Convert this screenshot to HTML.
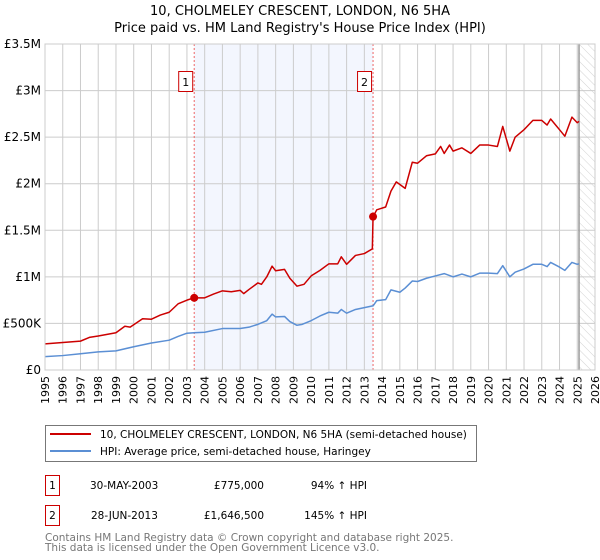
<!DOCTYPE html>
<html><head><meta charset="utf-8"><style>
body{margin:0;background:#fff;font-family:"DejaVu Sans","Liberation Sans",sans-serif;}
#wrap{position:relative;width:600px;height:560px;overflow:hidden;}
</style></head><body><div id="wrap">
<svg id="chart" width="600" height="560" xmlns="http://www.w3.org/2000/svg" font-family="DejaVu Sans, Liberation Sans, sans-serif">
<defs><pattern id="hatch" width="6" height="6" patternUnits="userSpaceOnUse" patternTransform="rotate(-45)"><line x1="0" y1="0" x2="0" y2="6" stroke="#c8c8c8" stroke-width="0.8"/></pattern></defs>
<text x="300" y="15" text-anchor="middle" font-size="13" fill="#000">10, CHOLMELEY CRESCENT, LONDON, N6 5HA</text>
<text x="300" y="32" text-anchor="middle" font-size="13" fill="#000">Price paid vs. HM Land Registry's House Price Index (HPI)</text>
<g id="plot"></g>
<g>
<rect x="45.5" y="425.5" width="431" height="36" fill="#fff" stroke="#777"/>
<line x1="50" y1="434" x2="91" y2="434" stroke="#cc0000" stroke-width="2"/>
<text x="100" y="438" font-size="10.5">10, CHOLMELEY CRESCENT, LONDON, N6 5HA (semi-detached house)</text>
<line x1="50" y1="451" x2="91" y2="451" stroke="#5b8fd4" stroke-width="2"/>
<text x="100" y="455" font-size="10.5">HPI: Average price, semi-detached house, Haringey</text>
</g>
<g font-size="10.5">
<rect x="45.5" y="475.5" width="14" height="20" fill="#fff" stroke="#cc0000"/>
<text x="52.5" y="489" text-anchor="middle">1</text>
<text x="90" y="489">30-MAY-2003</text>
<text x="264" y="489" text-anchor="end">£775,000</text>
<text x="367" y="489" text-anchor="end">94% ↑ HPI</text>
<rect x="45.5" y="505.5" width="14" height="20" fill="#fff" stroke="#cc0000"/>
<text x="52.5" y="519" text-anchor="middle">2</text>
<text x="91" y="519">28-JUN-2013</text>
<text x="264" y="519" text-anchor="end">£1,646,500</text>
<text x="367" y="519" text-anchor="end">145% ↑ HPI</text>
</g>
<text x="45" y="541" font-size="10.5" fill="#777">Contains HM Land Registry data © Crown copyright and database right 2025.</text>
<text x="45" y="551" font-size="10.5" fill="#777">This data is licensed under the Open Government Licence v3.0.</text>
</svg>
</div>
<script>
const hpiYears=[1995,1996,1997,1998,1999,2000,2001,2002,2002.5,2003,2003.4,2004,2005,2006,2006.5,2007,2007.5,2007.8,2008,2008.5,2008.8,2009.2,2009.5,2010,2010.5,2011,2011.5,2011.7,2012,2012.5,2013,2013.5,2013.7,2014.2,2014.5,2015,2015.3,2015.7,2016,2016.5,2017,2017.5,2018,2018.5,2019,2019.5,2020,2020.5,2020.8,2021.2,2021.5,2022,2022.5,2023,2023.3,2023.5,2024,2024.3,2024.7,2025,2025.1];
const hpiValues=[143,155,175,195,205,250,290,320,360,395,400,405,445,445,460,490,530,600,570,575,520,480,490,530,580,620,610,650,610,650,670,690,745,755,860,835,880,955,950,985,1010,1035,1000,1030,1000,1040,1040,1035,1120,1000,1050,1085,1135,1135,1110,1155,1105,1070,1155,1135,1140];
const priceYears=[1995,1996,1997,1997.5,1998,1999,1999.5,1999.8,2000.5,2001,2001.5,2002,2002.5,2003,2003.4,2004,2004.5,2005,2005.5,2006,2006.2,2006.5,2007,2007.2,2007.5,2007.8,2008,2008.5,2008.8,2009.2,2009.6,2010,2010.5,2011,2011.5,2011.7,2012,2012.5,2013,2013.45,2013.49,2013.7,2014.2,2014.5,2014.8,2015.3,2015.7,2016,2016.5,2017,2017.3,2017.5,2017.8,2018,2018.5,2019,2019.5,2020,2020.5,2020.8,2021.2,2021.5,2022,2022.5,2023,2023.3,2023.5,2024,2024.3,2024.7,2025,2025.1];
const priceValues=[280,295,310,350,365,400,470,460,550,545,590,620,710,750,775,775,815,850,840,855,820,865,935,920,1000,1115,1065,1080,985,900,920,1010,1070,1140,1140,1215,1135,1230,1250,1300,1646,1720,1750,1920,2020,1950,2230,2220,2300,2320,2400,2325,2415,2350,2385,2325,2415,2415,2400,2615,2350,2500,2580,2680,2680,2630,2695,2580,2510,2715,2655,2670];
const saleYears=[2003.41,2013.49];
const saleValues=[775,1646.5];
const saleLabels=["1","2"];
const yTicks=[0,500,1000,1500,2000,2500,3000,3500];
const yTickLabels=["£0","£500K","£1M","£1.5M","£2M","£2.5M","£3M","£3.5M"];
const xTicks=[];for(let y=1995;y<=2026;y++)xTicks.push(y);
const dataEnd=2025.1;

const X0=45,X1=595,Y0=370,Y1=44;
const xs=t=>X0+(t-1995)/(2026-1995)*(X1-X0);
const ys=v=>Y0-v/3500*(Y0-Y1);
const NS="http://www.w3.org/2000/svg";
const g=document.getElementById('plot');
function mk(tag,attrs){const e=document.createElementNS(NS,tag);for(const k in attrs)e.setAttribute(k,attrs[k]);g.appendChild(e);return e;}

let e=mk('rect',{x:xs(saleYears[0]),y:Y1,width:xs(saleYears[1])-xs(saleYears[0]),height:Y0-Y1,fill:'#f3f6fe'});


xTicks.forEach(t=>{
  const l=mk('line',{x1:xs(t),x2:xs(t),y1:Y1,y2:Y0,stroke:'#cccccc','stroke-width':1});
  
  
  const tx=mk('text',{x:0,y:0,'font-size':11,'text-anchor':'end',transform:`translate(${xs(t)+4},${Y0+6}) rotate(-90)`});
  tx.textContent=t;
  
  
});
yTicks.forEach((v,i)=>{
  const l=mk('line',{x1:X0,x2:X1,y1:ys(v),y2:ys(v),stroke:'#cccccc','stroke-width':1});
  
  
  const tx=mk('text',{x:X0-4,y:ys(v)+4,'font-size':12,'text-anchor':'end'});
  tx.textContent=yTickLabels[i];
  
  
});
e=mk('rect',{x:xs(dataEnd),y:Y1,width:X1-xs(dataEnd),height:Y0-Y1,fill:'url(#hatch)'});


e=mk('line',{x1:xs(dataEnd),x2:xs(dataEnd),y1:Y1,y2:Y0,stroke:'#999','stroke-width':1.5});


saleYears.forEach((t,i)=>{
  const l=mk('line',{x1:xs(t),x2:xs(t),y1:Y1,y2:Y0,stroke:'#ee6666','stroke-width':1,'stroke-dasharray':'2,2'});
  
  
  const r=mk('rect',{x:xs(t)-15.5,y:71.5,width:14,height:20,fill:'#fff',stroke:'#cc0000'});
  
  
  const tx=mk('text',{x:xs(t)-8.5,y:86,'font-size':11,'text-anchor':'middle'});
  tx.textContent=saleLabels[i];
  
  
});
e=mk('polyline',{points:hpiYears.map((t,i)=>xs(t)+','+ys(hpiValues[i])).join(' '),fill:'none',stroke:'#5b8fd4','stroke-width':1.5,'stroke-linejoin':'round'});


e=mk('polyline',{points:priceYears.map((t,i)=>xs(t)+','+ys(priceValues[i])).join(' '),fill:'none',stroke:'#cc0000','stroke-width':1.5,'stroke-linejoin':'round'});


saleYears.forEach((t,i)=>{
  const c=mk('circle',{cx:xs(t),cy:ys(saleValues[i]),r:4,fill:'#cc0000'});
  
  
});
e=mk('rect',{x:X0,y:Y1,width:X1-X0,height:Y0-Y1,fill:'none',stroke:'#cccccc'});


</script></body></html>
